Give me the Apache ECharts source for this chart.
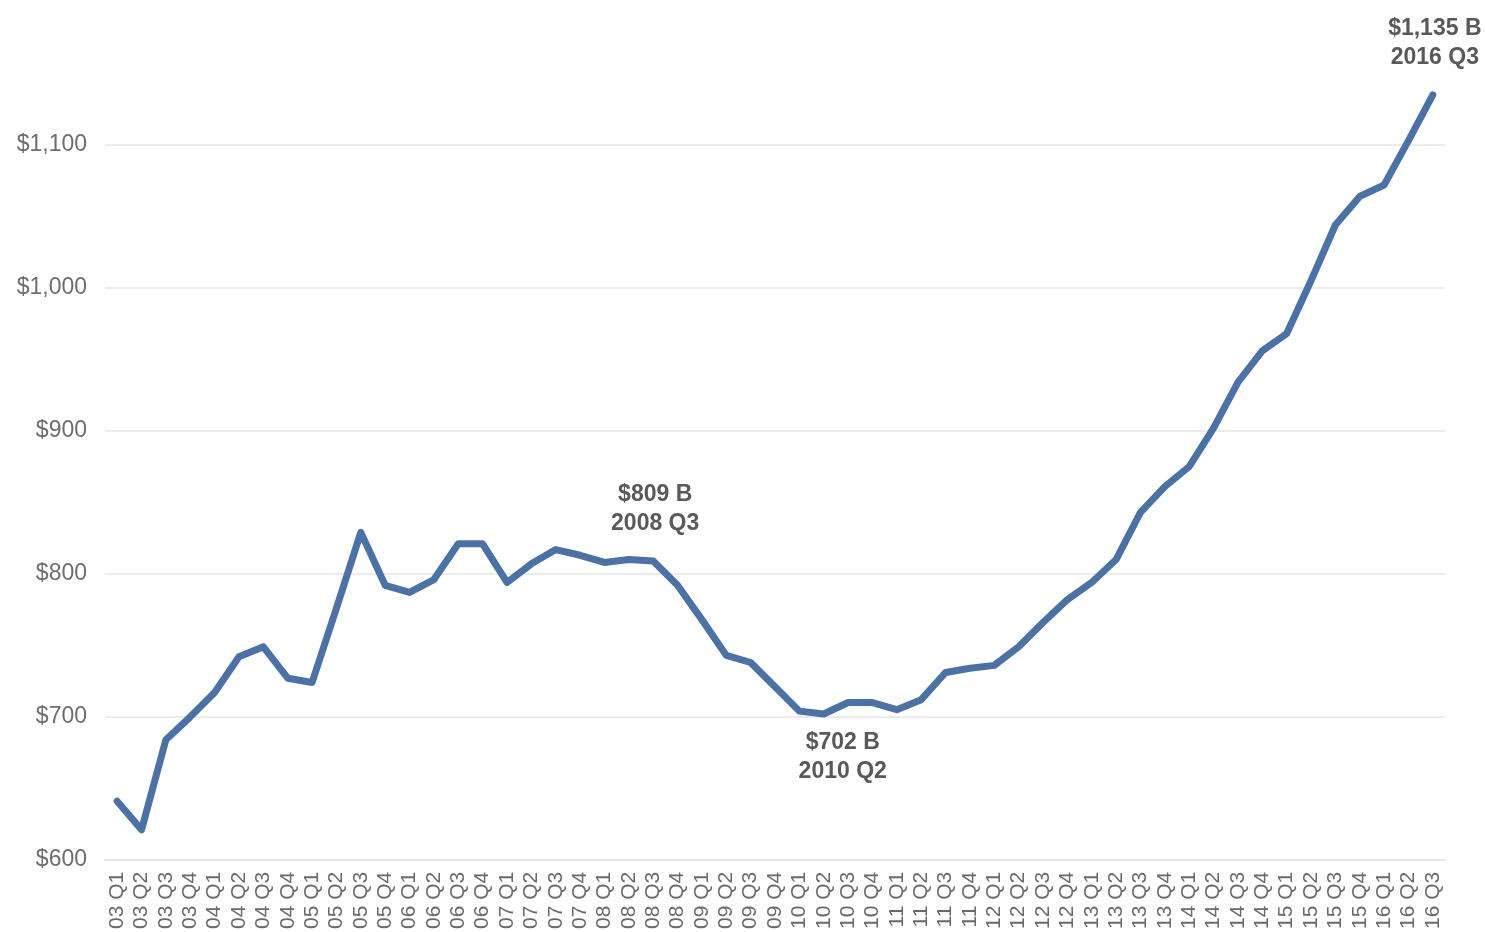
<!DOCTYPE html>
<html>
<head>
<meta charset="utf-8">
<script src="https://cdn.jsdelivr.net/npm/echarts@6/dist/echarts.min.js"></script>
<style>
html,body{margin:0;padding:0;background:#fff;}
#chart{width:1485px;height:932px;}
</style>
</head>
<body>
<div id="chart"></div>
<script>
// Quarter categories 2003 Q1 .. 2016 Q3
const years = ['03','04','05','06','07','08','09','10','11','12','13','14','15','16'];
const quarters = ['Q1','Q2','Q3','Q4'];
const categories = [];
years.forEach(y => quarters.forEach(q => categories.push(y + ' ' + q)));
categories.length = 55;

// Values in $ billions
const values = [
  641, 621, 684, 700,
  717, 742, 749, 727,
  724, 776, 829, 792,
  787, 796, 821, 821,
  794, 807, 817, 813,
  808, 810, 809, 792,
  768, 743, 738, 721,
  704, 702, 710, 710,
  705, 712, 731, 734,
  736, 749, 766, 782,
  794, 810, 843, 861,
  875, 902, 934, 956,
  968, 1005, 1044, 1064,
  1072, 1103, 1135
];

const yTicks = [600, 700, 800, 900, 1000, 1100, 1200];

// annotated points: index, placement
const annotations = [
  { idx: 22, pos: 'top' },
  { idx: 29, pos: 'bottom' },
  { idx: 54, pos: 'top' }
];

function fmtMoney(v) {
  return '$' + v.toLocaleString('en-US');
}
function fullQuarter(cat) {
  const p = cat.split(' ');
  return '20' + p[0] + ' ' + p[1];
}

const annStyle = {
  top: { position: 'top', distance: 22, offset: [2, 0] },
  bottom: { position: 'bottom', distance: 14, offset: [19, 0] }
};

const seriesData = values.map((v, i) => {
  const a = annotations.find(x => x.idx === i);
  if (!a) return v;
  const st = annStyle[a.pos];
  return {
    value: v,
    label: {
      show: true,
      position: st.position,
      distance: st.distance,
      offset: st.offset,
      formatter: fmtMoney(v) + ' B\n' + fullQuarter(categories[i]),
      fontFamily: 'Liberation Sans, Arial, sans-serif',
      fontWeight: 'bold',
      fontSize: 23,
      lineHeight: 29,
      color: '#595959',
      align: 'center'
    }
  };
});

const chart = echarts.init(document.getElementById('chart'), null, { renderer: 'canvas' });
chart.setOption({
  animation: false,
  backgroundColor: '#ffffff',
  grid: { left: 105, right: 40, top: 2, bottom: 72, containLabel: false },
  xAxis: {
    type: 'category',
    data: categories,
    boundaryGap: true,
    axisLine: { show: true, lineStyle: { color: '#e6e6e6', width: 2 } },
    axisTick: { show: false },
    axisLabel: {
      rotate: 90,
      interval: 0,
      margin: 12,
      fontFamily: 'Liberation Sans, Arial, sans-serif',
      fontSize: 21,
      color: '#6a6a6a'
    }
  },
  yAxis: {
    type: 'value',
    min: yTicks[0],
    max: yTicks[yTicks.length - 1],
    interval: 100,
    axisLine: { show: false },
    axisTick: { show: false },
    splitLine: { show: true, showMaxLine: false, lineStyle: { color: '#ececec', width: 2 } },
    axisLabel: {
      showMaxLabel: false,
      margin: 18,
      fontFamily: 'Liberation Sans, Arial, sans-serif',
      fontSize: 23,
      color: '#6e6e6e',
      formatter: v => fmtMoney(v)
    }
  },
  series: [{
    type: 'line',
    data: seriesData,
    symbol: 'circle',
    symbolSize: 1,
    showSymbol: true,
    smooth: false,
    lineStyle: { color: '#4a72a6', width: 7, join: 'round', cap: 'round' },
    itemStyle: { color: '#4a72a6' },
    label: { show: false }
  }]
});
</script>
</body>
</html>
